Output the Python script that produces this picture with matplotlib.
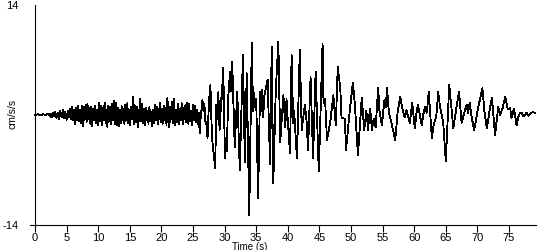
import numpy as np
import matplotlib.pyplot as plt

plt.rcParams['font.family'] = ['Liberation Sans', 'DejaVu Sans']
plt.rcParams['axes.unicode_minus'] = False

# accelerogram, split into segments (time in s, accel in cm/s/s)
t_quiet = [0.0, 0.5, 0.9, 1.3, 1.7, 2.0, 2.3]
acc_quiet = [0.0, 0.1, -0.05, 0.1, 0.0, 0.15, -0.1]

t_early = [
    2.4, 2.6, 2.8, 3.0, 3.2, 3.4, 3.6, 3.8, 4.0, 4.2,
    4.4, 4.6, 4.8, 5.0, 5.2, 5.4, 5.6, 5.75, 5.9, 6.05,
    6.2, 6.35, 6.5, 6.65, 6.8, 6.95, 7.1, 7.25, 7.4, 7.55,
    7.7, 7.85, 8.0, 8.15, 8.3, 8.45, 8.6, 8.75, 8.9, 9.05,
    9.2, 9.35, 9.5, 9.65, 9.8, 9.95, 10.1, 10.25, 10.4, 10.55,
    10.7, 10.85, 11.0, 11.15, 11.3, 11.45, 11.6, 11.75, 11.9, 12.05,
    12.2, 12.35, 12.5, 12.65, 12.8, 12.95, 13.1, 13.25, 13.4, 13.55,
    13.7, 13.85, 14.0, 14.15, 14.3, 14.45, 14.6, 14.75, 14.9, 15.05,
    15.2, 15.35, 15.55, 15.7, 15.85, 16.0, 16.15, 16.3, 16.45, 16.6,
    16.75, 16.9, 17.05, 17.2, 17.35, 17.5, 17.65, 17.8, 17.95, 18.1,
    18.25, 18.4, 18.55, 18.7, 18.85, 19.0, 19.15, 19.3, 19.45, 19.6,
    19.75, 19.9, 20.05, 20.2, 20.35, 20.5, 20.65, 20.8, 20.95, 21.1,
    21.25, 21.4, 21.55, 21.7, 21.85, 22.0, 22.15, 22.3, 22.45, 22.6,
    22.75, 22.9, 23.05, 23.2, 23.35, 23.5, 23.65, 23.8, 23.95, 24.1,
    24.25, 24.4, 24.55, 24.7, 24.85, 25.0, 25.15, 25.3, 25.45, 25.6,
    25.75, 25.9, 26.05, 26.2, 26.35, 26.5, 26.65, 26.8, 26.95, 27.1,
]
acc_early = [
    0.2, -0.3, 0.3, -0.2, 0.4, -0.4, 0.3, -0.5, 0.5, -0.3,
    0.6, -0.4, 0.4, -0.6, 0.5, -0.3, 0.8, -0.5, 1.0, -0.7,
    0.6, -1.2, 0.9, -0.6, 1.2, -0.8, 0.7, -1.0, 1.1, -1.4,
    1.0, -0.6, 1.3, -0.9, 1.4, -0.5, 0.9, -1.1, 1.0, -1.4,
    0.8, -0.7, 1.2, -1.0, 0.6, -1.3, 1.5, -0.8, 1.2, -1.3,
    0.9, -0.6, 1.6, -1.0, 0.7, -1.5, 1.2, -0.8, 1.0, -1.2,
    1.4, -0.7, 1.8, -1.1, 1.5, -1.3, 0.9, -1.4, 0.6, -1.0,
    1.1, -0.7, 0.8, -1.2, 1.3, -0.6, 1.5, -1.0, 0.7, -1.3,
    1.0, -0.5, 2.3, -1.2, 1.2, -0.9, 1.0, -1.5, -0.3, 2.0,
    -0.8, 1.4, -1.0, 0.8, -1.3, 0.9, -0.6, 0.5, -1.1, 1.0,
    -0.8, 0.4, -1.4, 0.6, -1.0, 1.3, -0.7, 1.0, -1.2, -0.2,
    1.6, -0.9, 0.8, -1.1, 1.2, -0.6, 0.9, -1.3, 2.2, -0.8,
    -1.6, 1.0, -0.5, 1.7, -1.0, 2.0, -1.3, 0.6, -0.9, 1.4,
    -1.1, 0.8, -0.7, 1.5, -1.2, 0.9, -0.5, 1.3, -0.9, 1.6,
    -1.1, 1.4, -0.8, 0.5, -1.3, 1.3, -0.7, 1.1, -0.9, 0.6,
    -1.2, 0.3, -2.3, -0.4, 0.8, 1.9, 0.5, 1.4, -0.8, -1.0,
]

t_strong = [
    27.3, 27.55, 27.65, 27.75, 28.0, 28.5, 28.7, 28.85, 29.0, 29.2,
    29.6, 29.68, 29.78, 30.06, 30.2, 30.35, 30.55, 30.85, 31.0, 31.2,
    31.6, 32.0, 32.4, 32.9, 33.2, 33.5, 33.9, 34.3, 34.5, 34.65,
    34.8, 35.0, 35.3, 35.6, 35.8, 35.95, 36.1, 36.3, 36.8, 37.2,
    37.45, 37.7, 38.1, 38.5, 38.8, 39.3, 39.6, 39.8, 40.0, 40.35,
    40.6, 40.85, 41.0, 41.45, 41.9, 42.2, 42.7, 43.0, 43.2, 43.6,
    44.0, 44.4, 44.9, 45.5, 45.65, 45.9, 46.2, 46.7, 47.2, 47.6,
    47.9, 48.3, 48.5, 49.05, 49.2, 49.8, 50.3, 50.6, 51.1, 51.7,
]
acc_strong = [
    -2.9, 2.3, 1.0, 3.8, -2.9, -6.7, 1.3, -0.5, 2.9, -1.9,
    3.8, 2.0, 6.0, -5.5, -3.0, -4.6, 2.0, 5.5, 3.0, 6.7,
    -4.1, 2.9, -7.0, 7.6, -6.0, 5.3, -12.7, 9.2, 0.5, 2.8,
    1.0, 2.0, -10.6, 2.9, 0.5, 3.2, -0.3, 2.5, 4.5, -6.3,
    8.7, -8.7, 3.2, 9.3, -3.4, 2.5, -1.5, 2.0, -0.8, -4.8,
    7.6, -1.0, 0.5, -5.5, 8.3, -1.9, 1.3, -1.0, -4.5, 4.8,
    -5.5, 5.5, -7.2, 9.0, 1.5, 2.0, -3.2, -1.0, 2.5, -1.3,
    6.1, 3.5, -0.3, -0.5, -4.5, 0.5, 4.1, 1.5, -5.1, 2.2,
]

t_coda = [
    52.1, 52.25, 52.4, 52.55, 52.7, 53.0, 53.15, 53.3, 53.6, 53.9,
    54.3, 54.5, 54.9, 55.1, 55.3, 55.5, 55.7, 56.0, 56.4, 57.0,
    57.4, 57.8, 58.1, 58.5, 58.8, 59.3, 59.7, 60.1, 60.35, 60.6,
    61.2, 61.45, 61.7, 62.0, 62.3, 62.8, 63.1, 63.5, 63.8, 64.1,
    64.35, 64.6, 65.0, 65.55, 65.9, 66.2, 66.6, 67.1, 67.5, 67.9,
    68.3, 68.5, 68.8, 69.1, 69.5, 70.1, 70.8, 71.1, 71.5, 71.9,
    72.3, 72.8, 73.3, 73.6, 74.0, 74.4, 74.8, 75.2, 75.4, 75.8,
    76.2, 76.5, 76.7, 77.0, 77.3, 77.6, 77.8, 78.1, 78.3, 78.6,
    78.8, 79.1,
]
acc_coda = [
    -1.9, -0.8, 0.5, -0.3, -1.9, 0.8, -0.2, -1.9, -0.5, -1.6,
    3.4, 0.6, -1.3, 0.4, 1.9, 1.0, 3.4, 0.3, -1.0, -3.2,
    0.5, 2.3, 0.9, -0.3, 0.6, -1.0, 1.5, -1.7, 0.2, 1.3,
    -1.3, 0.1, 1.0, 0.3, 2.9, -2.9, -1.2, -0.2, 2.9, 1.0,
    0.0, -1.0, -5.9, 3.8, 0.8, -1.7, 0.5, 2.9, -1.0, 0.2,
    1.3, 0.3, 1.5, -0.3, -1.9, 0.85, 3.4, 0.6, -1.7, 0.4,
    2.2, -2.5, 1.0, 0.0, 0.9, 2.3, 0.8, 0.85, -0.4, 0.8,
    -1.3, -0.2, 0.2, 0.3, -0.2, 0.1, 0.3, -0.1, 0.1, 0.3,
    0.35, 0.3,
]

x_ticks = list(range(0, 80, 5))
y_ticks = [-14, 14]

time = np.concatenate([t_quiet, t_early, t_strong, t_coda])
acc = np.concatenate([acc_quiet, acc_early, acc_strong, acc_coda])

fig = plt.figure(figsize=(5.5, 2.5), dpi=100)
ax = fig.add_axes([30 / 550, 25 / 250, 505.5 / 550, 220 / 250])

ax.plot(time, acc, color='black', lw=0.6, antialiased=False)

ax.set_xlim(-0.8, 79.2)
ax.set_ylim(-14, 14)
ax.spines['left'].set_position(('data', 0))
ax.spines['top'].set_visible(False)
ax.spines['right'].set_visible(False)
for s in ('left', 'bottom'):
    ax.spines[s].set_linewidth(0.8)

ax.set_xticks(x_ticks)
ax.set_yticks(y_ticks)
ax.tick_params(axis='x', length=5, width=0.8, pad=0.5, labelsize=8)
ax.tick_params(axis='y', length=0, pad=12, labelsize=8)

fig.text(250 / 550, 1 - 246.5 / 250, 'Time (s)', ha='center', va='center', fontsize=7)
fig.text(12 / 550, 1 - 114 / 250, 'cm/s/s', rotation=90, ha='center', va='center', fontsize=7.5)

fig.savefig('out.png', dpi=100)
